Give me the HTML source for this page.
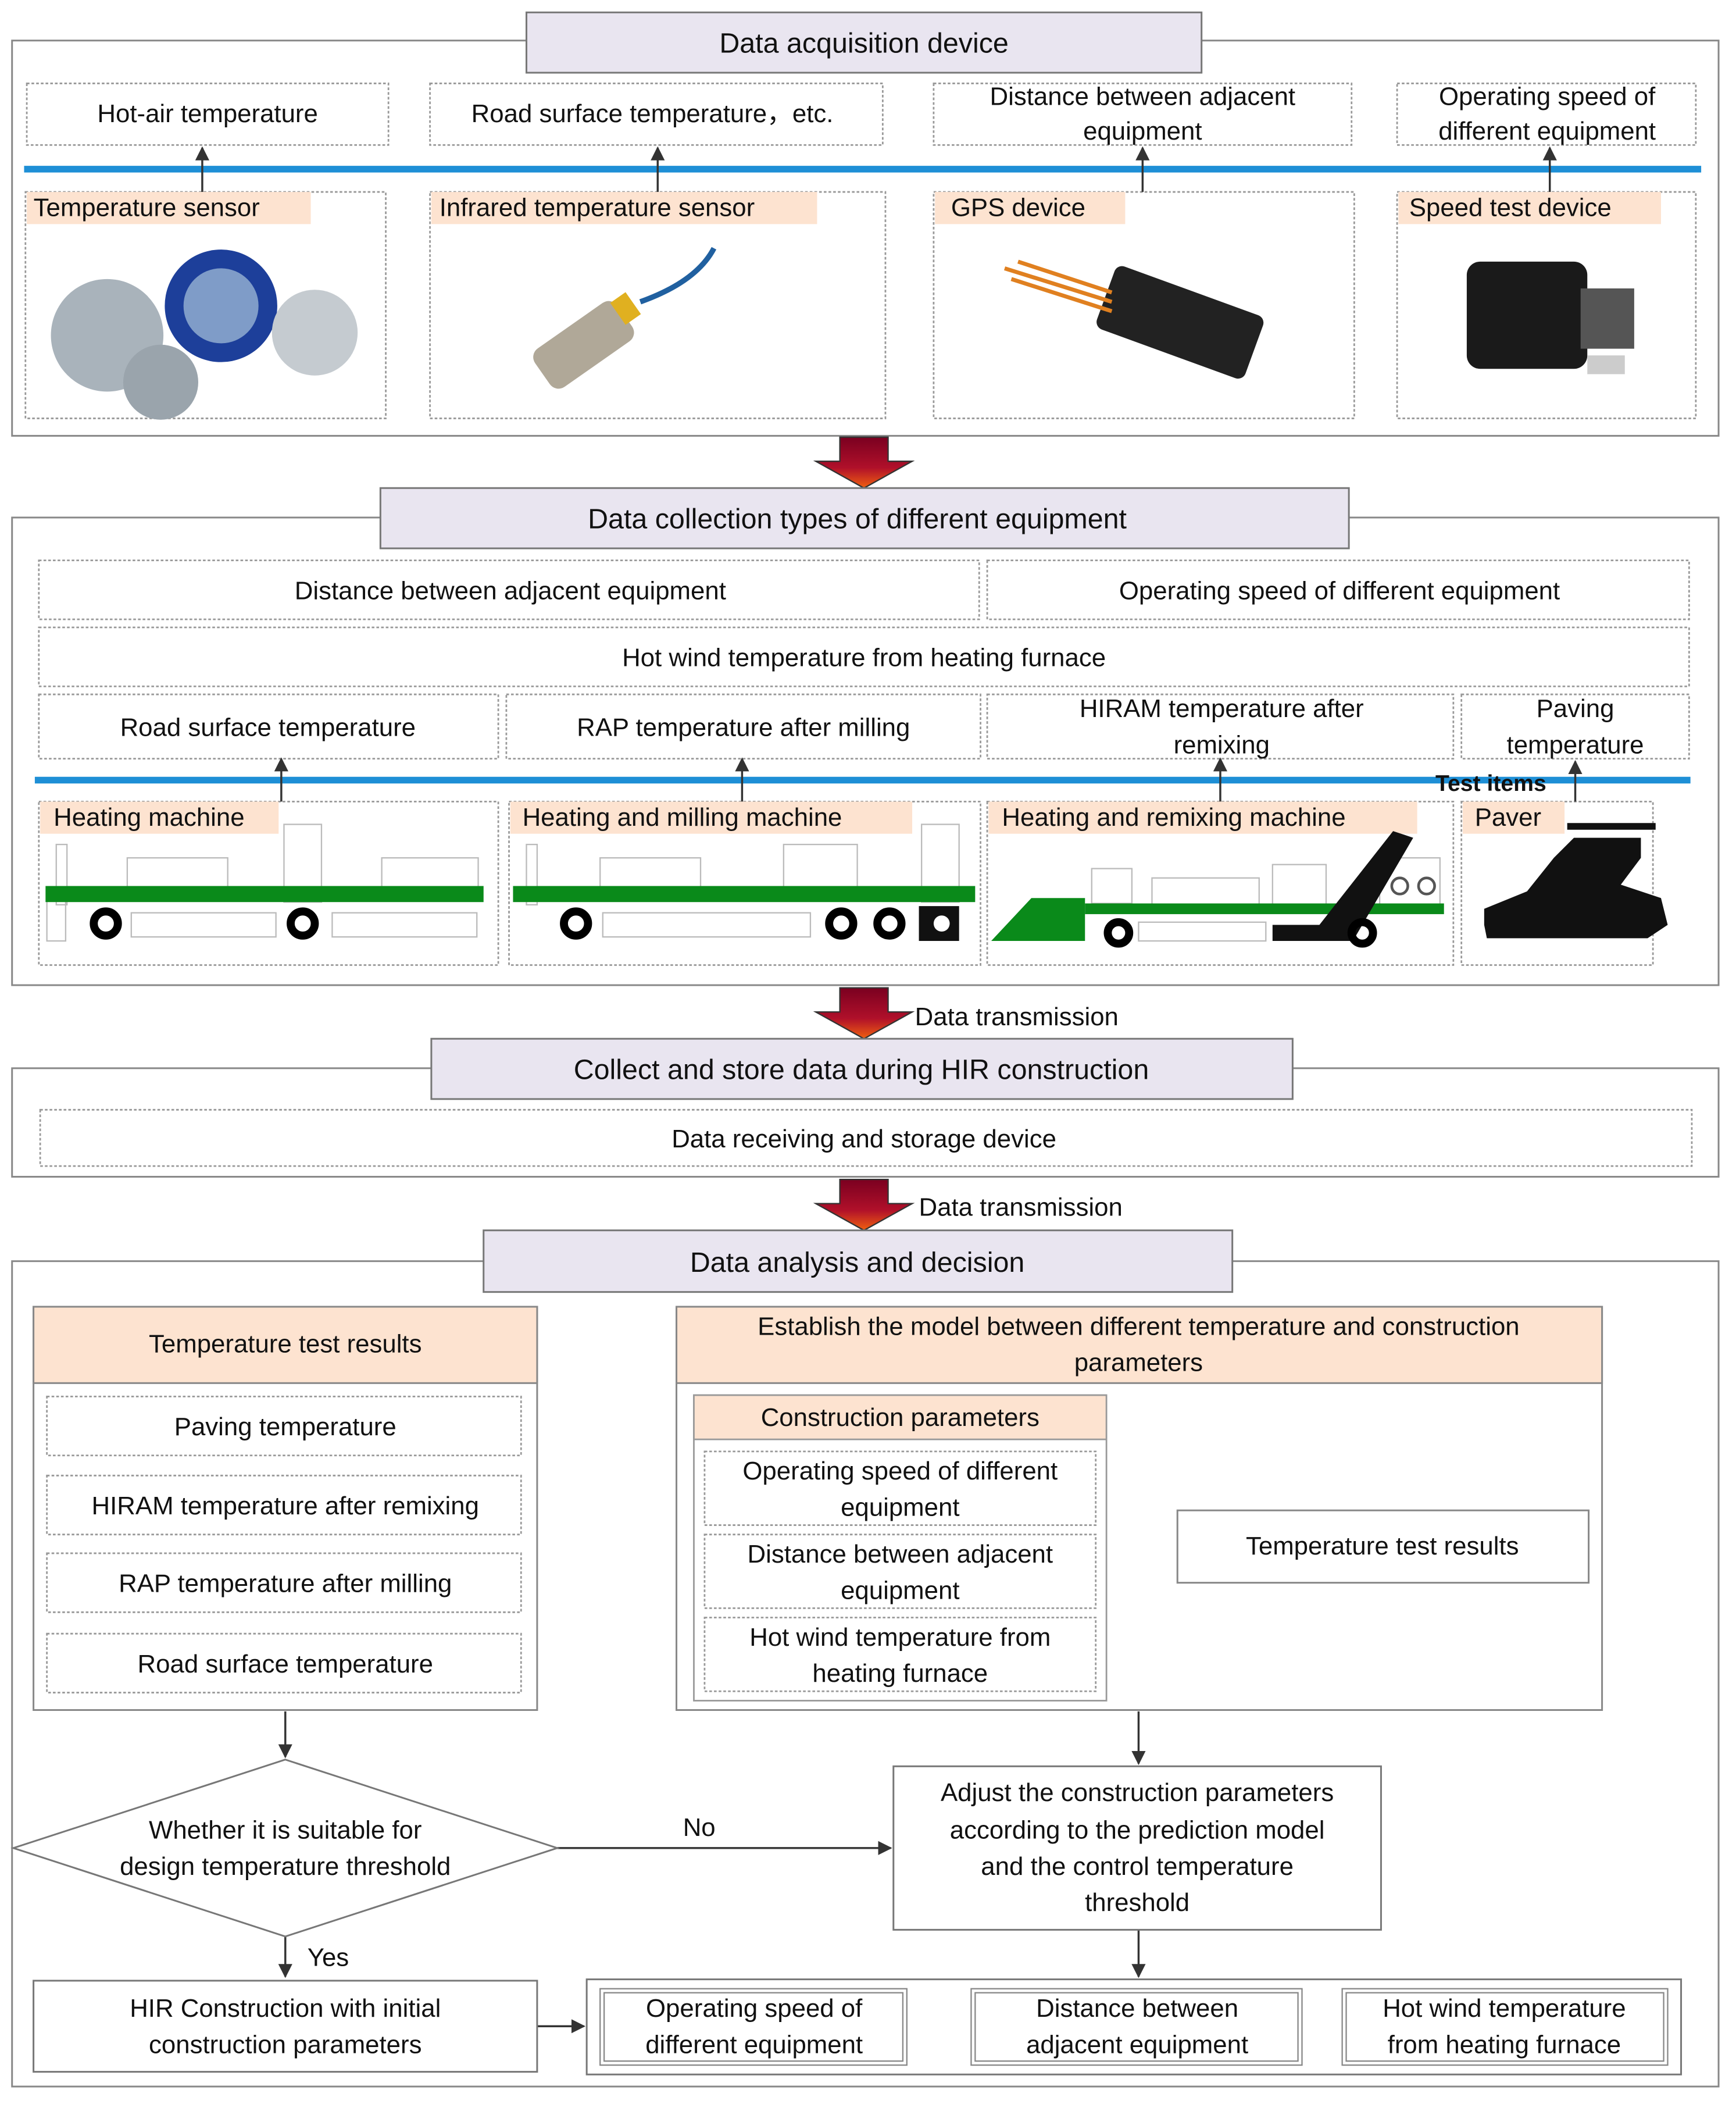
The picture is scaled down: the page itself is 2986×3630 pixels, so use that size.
<!DOCTYPE html>
<html><head><meta charset="utf-8"><style>
html,body{margin:0;padding:0;background:#fff;}
svg{display:block;}
text{font-family:"Liberation Sans",sans-serif;fill:#111;}
</style></head><body>
<svg width="2986" height="3630" viewBox="0 0 1296 1575" xmlns="http://www.w3.org/2000/svg">
<defs>
<marker id="ah" viewBox="0 0 10 10" refX="9" refY="5" markerWidth="7" markerHeight="7" orient="auto"><path d="M0,0 L10,5 L0,10 z" fill="#333"/></marker>
<linearGradient id="rg" x1="0" y1="0" x2="0" y2="1"><stop offset="0" stop-color="#7a0020"/><stop offset="0.6" stop-color="#b0102a"/><stop offset="1" stop-color="#f06010"/></linearGradient>
<g id="bigarrow"><path d="M-18,0 L18,0 L18,18 L36,18 L0,38 L-36,18 L-18,18 z" fill="url(#rg)" stroke="#333" stroke-width="1"/></g>
</defs>
<g fill="none" stroke="#888" stroke-width="1.3">
<!-- Section 1 -->
<rect x="9" y="30" width="1274" height="295"/>
</g>
<rect x="393" y="9" width="504" height="45" fill="#e9e5f0" stroke="#777" stroke-width="1.3"/>
<text x="645" y="39" font-size="21" text-anchor="middle">Data acquisition device</text>
<g fill="none" stroke="#999" stroke-width="1.2" stroke-dasharray="2,1.5">
<rect x="20" y="62" width="270" height="46"/>
<rect x="321" y="62" width="338" height="46"/>
<rect x="697" y="62" width="312" height="46"/>
<rect x="1043" y="62" width="223" height="46"/>
<rect x="19" y="143" width="269" height="169"/>
<rect x="321" y="143" width="340" height="169"/>
<rect x="697" y="143" width="314" height="169"/>
<rect x="1043" y="143" width="223" height="169"/>
</g>
<g font-size="19" text-anchor="middle">
<text x="155" y="91">Hot-air temperature</text>
<text x="487" y="91">Road surface temperature，etc.</text>
<text x="853" y="78">Distance between adjacent</text>
<text x="853" y="104">equipment</text>
<text x="1155" y="78">Operating speed of</text>
<text x="1155" y="104">different equipment</text>
</g>
<line x1="18" y1="126" x2="1270" y2="126" stroke="#1e8fd6" stroke-width="5"/>
<g stroke="#333" stroke-width="1.5" marker-end="url(#ah)">
<line x1="151" y1="143" x2="151" y2="110"/>
<line x1="491" y1="143" x2="491" y2="110"/>
<line x1="853" y1="143" x2="853" y2="110"/>
<line x1="1157" y1="143" x2="1157" y2="110"/>
</g>
<g fill="#fde3d0">
<rect x="20" y="143" width="212" height="24"/>
<rect x="322" y="143" width="288" height="24"/>
<rect x="698" y="143" width="142" height="24"/>
<rect x="1044" y="143" width="196" height="24"/>
</g>
<g font-size="19">
<text x="25" y="161">Temperature sensor</text>
<text x="328" y="161">Infrared temperature sensor</text>
<text x="710" y="161">GPS device</text>
<text x="1052" y="161">Speed test device</text>
</g>
<!-- sensor images -->
<circle cx="80" cy="250" r="42" fill="#a9b3bb"/>
<circle cx="165" cy="228" r="42" fill="#1d3f9a"/>
<circle cx="165" cy="228" r="28" fill="#7f9cc8"/>
<circle cx="235" cy="248" r="32" fill="#c5cbd0"/>
<circle cx="120" cy="285" r="28" fill="#9aa4ac"/>
<rect x="398" y="240" width="75" height="35" rx="8" transform="rotate(-35 435 257)" fill="#b0a898"/>
<rect x="460" y="220" width="14" height="20" transform="rotate(-35 467 230)" fill="#e0b020"/>
<path d="M478,225 Q520,210 533,185" stroke="#2060a0" stroke-width="4" fill="none"/>
<rect x="822" y="215" width="118" height="50" rx="6" transform="rotate(20 880 240)" fill="#222"/>
<path d="M750,200 L830,225 M755,208 L830,232 M760,195 L830,218" stroke="#e08020" stroke-width="3"/>
<rect x="1095" y="195" width="90" height="80" rx="10" fill="#1a1a1a"/>
<rect x="1180" y="215" width="40" height="45" fill="#555"/>
<rect x="1185" y="265" width="28" height="14" fill="#ccc"/>
<!-- arrow 1 -->
<use href="#bigarrow" x="645" y="326"/>
<!-- Section 2 -->
<rect x="9" y="386" width="1274" height="349" fill="none" stroke="#888" stroke-width="1.3"/>
<rect x="284" y="364" width="723" height="45" fill="#e9e5f0" stroke="#777" stroke-width="1.3"/>
<text x="640" y="394" font-size="21" text-anchor="middle">Data collection types of different  equipment</text>
<g fill="none" stroke="#999" stroke-width="1.2" stroke-dasharray="2,1.5">
<rect x="29" y="418" width="702" height="44"/>
<rect x="737" y="418" width="524" height="44"/>
<rect x="29" y="468" width="1232" height="44"/>
<rect x="29" y="518" width="343" height="48"/>
<rect x="378" y="518" width="354" height="48"/>
<rect x="737" y="518" width="348" height="48"/>
<rect x="1091" y="518" width="170" height="48"/>
<rect x="29" y="598" width="343" height="122"/>
<rect x="380" y="598" width="352" height="122"/>
<rect x="737" y="598" width="348" height="122"/>
<rect x="1091" y="598" width="143" height="122"/>
</g>
<g font-size="19" text-anchor="middle">
<text x="381" y="447">Distance between adjacent equipment</text>
<text x="1000" y="447">Operating speed of different equipment</text>
<text x="645" y="497">Hot wind temperature from heating furnace</text>
<text x="200" y="549">Road surface temperature</text>
<text x="555" y="549">RAP temperature after milling</text>
<text x="912" y="535">HIRAM temperature after</text>
<text x="912" y="562">remixing</text>
<text x="1176" y="535">Paving</text>
<text x="1176" y="562">temperature</text>
</g>
<line x1="26" y1="582" x2="1262" y2="582" stroke="#1e8fd6" stroke-width="5"/>
<text x="1113" y="590" font-size="17" font-weight="bold" text-anchor="middle">Test items</text>
<g stroke="#333" stroke-width="1.5" marker-end="url(#ah)">
<line x1="210" y1="598" x2="210" y2="566"/>
<line x1="554" y1="598" x2="554" y2="566"/>
<line x1="911" y1="598" x2="911" y2="566"/>
<line x1="1176" y1="598" x2="1176" y2="568"/>
</g>
<g fill="#fde3d0">
<rect x="30" y="598" width="178" height="24"/>
<rect x="381" y="598" width="300" height="24"/>
<rect x="738" y="598" width="320" height="24"/>
<rect x="1092" y="598" width="76" height="24"/>
</g>
<g font-size="19">
<text x="40" y="616">Heating machine</text>
<text x="390" y="616">Heating and milling machine</text>
<text x="748" y="616">Heating and remixing machine</text>
<text x="1101" y="616">Paver</text>
</g>
<!-- machine drawings -->
<g fill="none" stroke="#bbb" stroke-width="1">
<rect x="42" y="630" width="8" height="45"/><rect x="95" y="640" width="75" height="32"/><rect x="212" y="615" width="28" height="58"/><rect x="285" y="640" width="72" height="32"/>
<rect x="35" y="672" width="14" height="30"/><rect x="98" y="681" width="108" height="18"/><rect x="248" y="681" width="108" height="18"/>
<rect x="393" y="630" width="8" height="45"/><rect x="448" y="640" width="75" height="32"/><rect x="585" y="630" width="55" height="42"/><rect x="688" y="615" width="28" height="58"/>
<rect x="450" y="681" width="155" height="18"/>
<rect x="815" y="648" width="30" height="26"/><rect x="860" y="655" width="80" height="20"/><rect x="950" y="645" width="40" height="30"/><rect x="1030" y="640" width="45" height="35"/>
<rect x="850" y="688" width="95" height="14"/>
</g>
<rect x="34" y="661" width="327" height="12" fill="#0a8a1a"/>
<rect x="383" y="661" width="345" height="12" fill="#0a8a1a"/>
<rect x="810" y="674" width="268" height="8" fill="#0a8a1a"/>
<path d="M740,702 L770,670 L810,670 L810,702 z" fill="#0a8a1a"/>
<path d="M950,702 L1010,702 L1055,625 L1040,620 L985,690 L950,690 z" fill="#111"/>
<g fill="none" stroke="#000" stroke-width="6">
<circle cx="79" cy="689" r="9"/><circle cx="226" cy="689" r="9"/>
<circle cx="430" cy="689" r="9"/><circle cx="628" cy="689" r="9"/><circle cx="664" cy="689" r="9"/>
<circle cx="835" cy="696" r="8"/><circle cx="1017" cy="696" r="8"/>
</g>
<rect x="686" y="676" width="30" height="26" fill="#111"/>
<circle cx="703" cy="689" r="6" fill="#fff"/>
<g fill="none" stroke="#555" stroke-width="2"><circle cx="1045" cy="661" r="6"/><circle cx="1065" cy="661" r="6"/></g>
<path d="M1108,690 L1108,678 L1140,665 L1160,640 L1175,625 L1225,625 L1225,640 L1210,660 L1240,670 L1245,690 L1230,700 L1110,700 z" fill="#111"/>
<rect x="1170" y="614" width="66" height="5" fill="#111"/>
<!-- arrow 2 -->
<use href="#bigarrow" x="645" y="737"/>
<text x="683" y="765" font-size="19">Data transmission</text>
<!-- Section 3 -->
<rect x="9" y="797" width="1274" height="81" fill="none" stroke="#888" stroke-width="1.3"/>
<rect x="322" y="775" width="643" height="45" fill="#e9e5f0" stroke="#777" stroke-width="1.3"/>
<text x="643" y="805" font-size="21" text-anchor="middle">Collect and store data during HIR construction</text>
<rect x="30" y="828" width="1233" height="42" fill="none" stroke="#999" stroke-width="1.2" stroke-dasharray="2,1.5"/>
<text x="645" y="856" font-size="19" text-anchor="middle">Data receiving and storage device</text>
<!-- arrow 3 -->
<use href="#bigarrow" x="645" y="880"/>
<text x="686" y="907" font-size="19">Data transmission</text>
<!-- Section 4 -->
<rect x="9" y="941" width="1274" height="616" fill="none" stroke="#888" stroke-width="1.3"/>
<rect x="361" y="918" width="559" height="46" fill="#e9e5f0" stroke="#777" stroke-width="1.3"/>
<text x="640" y="949" font-size="21" text-anchor="middle">Data analysis and decision</text>
<rect x="25" y="975" width="376" height="301" fill="#fff" stroke="#888" stroke-width="1.3"/>
<rect x="25" y="975" width="376" height="57" fill="#fde3d0" stroke="#888" stroke-width="1.3"/>
<text x="213" y="1009" font-size="19" text-anchor="middle">Temperature test results</text>
<g fill="none" stroke="#999" stroke-width="1.2" stroke-dasharray="2,1.5">
<rect x="35" y="1042" width="354" height="44"/>
<rect x="35" y="1101" width="354" height="44"/>
<rect x="35" y="1159" width="354" height="44"/>
<rect x="35" y="1219" width="354" height="44"/>
</g>
<g font-size="19" text-anchor="middle">
<text x="213" y="1071">Paving temperature</text>
<text x="213" y="1130">HIRAM temperature after remixing</text>
<text x="213" y="1188">RAP temperature after milling</text>
<text x="213" y="1248">Road surface temperature</text>
</g>
<rect x="505" y="975" width="691" height="301" fill="#fff" stroke="#888" stroke-width="1.3"/>
<rect x="505" y="975" width="691" height="57" fill="#fde3d0" stroke="#888" stroke-width="1.3"/>
<text x="850" y="996" font-size="19" text-anchor="middle">Establish the model between different temperature and construction</text>
<text x="850" y="1023" font-size="19" text-anchor="middle">parameters</text>
<rect x="518" y="1041" width="308" height="228" fill="#fff" stroke="#999" stroke-width="1.2"/>
<rect x="518" y="1041" width="308" height="33" fill="#fde3d0" stroke="#999" stroke-width="1.2"/>
<text x="672" y="1064" font-size="19" text-anchor="middle">Construction parameters</text>
<g fill="none" stroke="#999" stroke-width="1.2" stroke-dasharray="2,1.5">
<rect x="526" y="1083" width="292" height="55"/>
<rect x="526" y="1145" width="292" height="55"/>
<rect x="526" y="1207" width="292" height="55"/>
</g>
<g font-size="19" text-anchor="middle">
<text x="672" y="1104">Operating speed of different</text><text x="672" y="1131">equipment</text>
<text x="672" y="1166">Distance between adjacent</text><text x="672" y="1193">equipment</text>
<text x="672" y="1228">Hot wind temperature from</text><text x="672" y="1255">heating furnace</text>
</g>
<rect x="879" y="1127" width="307" height="54" fill="#fff" stroke="#888" stroke-width="1.3"/>
<text x="1032" y="1160" font-size="19" text-anchor="middle">Temperature test results</text>
<!-- flow -->
<g stroke="#333" stroke-width="1.5" marker-end="url(#ah)" fill="none">
<line x1="213" y1="1277" x2="213" y2="1311"/>
<line x1="850" y1="1277" x2="850" y2="1316"/>
<line x1="416" y1="1379" x2="665" y2="1379"/>
<line x1="850" y1="1440" x2="850" y2="1475"/>
<line x1="213" y1="1445" x2="213" y2="1475"/>
<line x1="401" y1="1512" x2="436" y2="1512"/>
</g>
<path d="M213,1313 L416,1379 L213,1445 L10,1379 z" fill="#fff" stroke="#777" stroke-width="1.3"/>
<g font-size="19" text-anchor="middle">
<text x="213" y="1372">Whether it is suitable for</text>
<text x="213" y="1399">design temperature threshold</text>
</g>
<text x="522" y="1370" font-size="19" text-anchor="middle">No</text>
<text x="245" y="1467" font-size="19" text-anchor="middle">Yes</text>
<rect x="667" y="1318" width="364" height="122" fill="#fff" stroke="#777" stroke-width="1.3"/>
<g font-size="19" text-anchor="middle">
<text x="849" y="1344">Adjust the construction parameters</text>
<text x="849" y="1372">according to the prediction model</text>
<text x="849" y="1399">and the control temperature</text>
<text x="849" y="1426">threshold</text>
</g>
<rect x="25" y="1478" width="376" height="68" fill="#fff" stroke="#777" stroke-width="1.3"/>
<text x="213" y="1505" font-size="19" text-anchor="middle">HIR Construction with initial</text>
<text x="213" y="1532" font-size="19" text-anchor="middle">construction parameters</text>
<rect x="438" y="1477" width="817" height="71" fill="#fff" stroke="#777" stroke-width="1.3"/>
<g fill="none" stroke="#888" stroke-width="1">
<rect x="448" y="1484" width="229" height="57"/><rect x="451" y="1487" width="223" height="51"/>
<rect x="725" y="1484" width="247" height="57"/><rect x="728" y="1487" width="241" height="51"/>
<rect x="1002" y="1484" width="243" height="57"/><rect x="1005" y="1487" width="237" height="51"/>
</g>
<g font-size="19" text-anchor="middle">
<text x="563" y="1505">Operating speed of</text><text x="563" y="1532">different equipment</text>
<text x="849" y="1505">Distance between</text><text x="849" y="1532">adjacent equipment</text>
<text x="1123" y="1505">Hot wind temperature</text><text x="1123" y="1532">from heating furnace</text>
</g>
</svg>
</body></html>
